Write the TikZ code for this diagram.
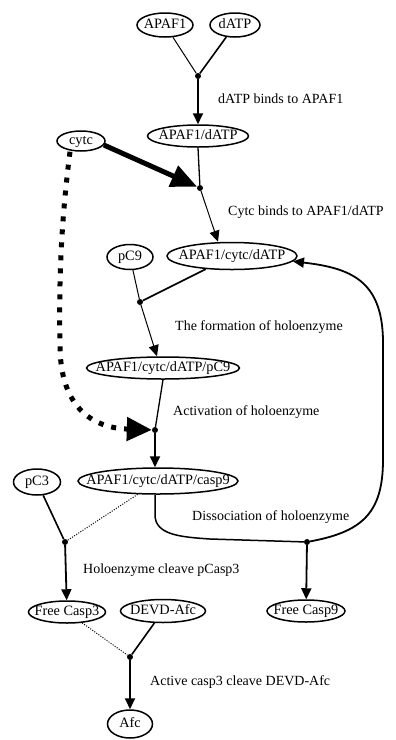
\documentclass[tikz,border=0pt]{standalone}
\usepackage{fontspec}
\setmainfont{Liberation Serif}
\usetikzlibrary{arrows.meta,shapes.geometric}
\newcommand\nbox[1]{\makebox[0pt]{#1}}
\begin{document}
\begin{tikzpicture}[x=1pt,y=-1pt,
 sp/.style={ellipse, draw, line width=1.5pt, inner sep=0pt, text height=9.5pt, text depth=2.5pt, font=\fontsize{14.3}{16}\selectfont},
 lab/.style={anchor=west, inner sep=0pt, text height=9.5pt, text depth=2.5pt, font=\fontsize{14}{16}\selectfont},
 jn/.style={circle, fill, inner sep=0pt, minimum size=6pt},
 reac/.style={line width=1pt},
 reacb/.style={line width=1.6pt},
 prod/.style={line width=1.8pt, -{Triangle[length=11pt,width=10pt]}},
 prodt/.style={line width=1pt, -{Triangle[length=11pt,width=10pt]}},
 dotln/.style={line width=1pt, dash pattern=on 1pt off 1.5pt},
]
\useasboundingbox (0,0) rectangle (396,740);
\fill[white] (0,0) rectangle (396,740);

% species
\node[sp, minimum width=56pt, minimum height=24pt] (apaf1) at (165,25) {\nbox{APAF1}};
\node[sp, minimum width=50pt, minimum height=24pt] (datp) at (235,25) {\nbox{dATP}};
\node[sp, minimum width=101pt, minimum height=22pt] (ad) at (198,136) {\nbox{APAF1/dATP}};
\node[sp, minimum width=48pt, minimum height=20pt] (cytc) at (81,141) {\nbox{cytc}};
\node[sp, minimum width=46pt, minimum height=25pt] (pc9) at (130,257) {\nbox{pC9}};
\node[sp, minimum width=130pt, minimum height=27pt] (acd) at (232,256) {\nbox{APAF1/cytc/dATP}};
\node[sp, minimum width=153pt, minimum height=22pt] (acdp) at (163,368) {\nbox{APAF1/cytc/dATP/pC9}};
\node[sp, minimum width=160pt, minimum height=26pt] (casp9) at (158,481) {\nbox{APAF1/cytc/dATP/casp9}};
\node[sp, minimum width=47pt, minimum height=26pt] (pc3) at (37,482) {\nbox{pC3}};
\node[sp, minimum width=77pt, minimum height=22pt] (fc3) at (67,612) {\nbox{Free Casp3}};
\node[sp, minimum width=85pt, minimum height=23pt] (devd) at (163,611) {\nbox{DEVD-Afc}};
\node[sp, minimum width=78pt, minimum height=22pt] (fc9) at (306,611) {\nbox{Free Casp9}};
\node[sp, minimum width=45pt, minimum height=28pt] (afc) at (130,724) {\nbox{Afc}};

% junctions
\node[jn] (j1) at (198,76) {};
\node[jn] (j2) at (200,188) {};
\node[jn] (j3) at (140,302) {};
\node[jn] (j4) at (155,430) {};
\node[jn] (j5) at (307,542) {};
\node[jn] (j6) at (65,542) {};
\node[jn] (j7) at (130,657) {};

% labels
\node[lab] (l1) at (218,100) {dATP binds to APAF1};
\node[lab] (l2) at (228,212) {Cytc binds to APAF1/dATP};
\node[lab] (l3) at (175,327) {The formation of holoenzyme};
\node[lab] (l4) at (173,412) {Activation of holoenzyme};
\node[lab] (l5) at (192,517) {Dissociation of holoenzyme};
\node[lab] (l6) at (83,570) {Holoenzyme cleave pCasp3};
\node[lab] (l7) at (150,682) {Active casp3 cleave DEVD-Afc};

% reaction 1
\draw[reac] (apaf1) -- (j1);
\draw[reacb] (datp) -- (j1);
\draw[prod] (j1) -- (ad.north);
% reaction 2
\draw[line width=1.3pt] (ad.south) -- (j2);
\draw[line width=5pt, -{Triangle[length=26pt,width=22pt]}] (cytc.-10) -- (j2);
\draw[prodt] (j2) -- ([xshift=-14pt]acd.north);
% reaction 3
\draw[reac] (pc9) -- (j3);
\draw[reacb] (acd) -- (j3);
\draw[prodt] (j3) -- ([xshift=-6pt]acdp.north);
% reaction 4
\draw[line width=1.3pt] (acdp.south) -- (j4);
\draw[line width=5pt, dash pattern=on 5pt off 8pt, -{Triangle[length=25pt,width=23pt]}]
  ([xshift=-11pt]cytc.south) .. controls (60,230) and (59,290) .. (60,345)
  .. controls (60,410) and (95,428) .. (j4);
\draw[prod] (j4) -- ([xshift=-3pt]casp9.north);
% reaction 5: dissociation
\draw[line width=1.5pt] ([xshift=-3pt]casp9.south) -- ++(0,20) .. controls +(0,20) and (180,537) .. (210,539) -- (j5);
\draw[prod] (j5) -- (fc9);
\draw[prod] (j5) .. controls (360,532) and (383,515) .. (383,460) -- (383,340)
  .. controls (382,280) and (350,268) .. (acd.-5);
% reaction 6
\draw[reacb] (pc3) -- (j6);
\draw[dotln] (casp9) -- (j6);
\draw[prod] (j6) -- (fc3);
% reaction 7
\draw[dotln] (fc3) -- (j7);
\draw[reacb] (devd) -- (j7);
\draw[prod] (j7) -- (afc);
\end{tikzpicture}
\end{document}
